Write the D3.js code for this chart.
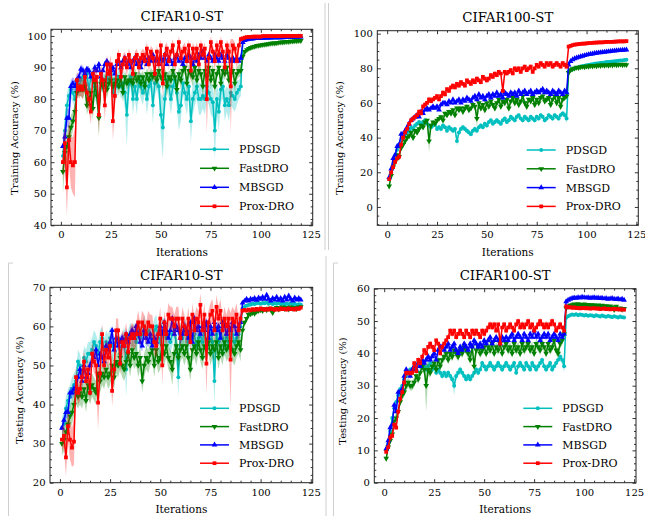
<!DOCTYPE html>
<meta charset="utf-8">
<style>
    body { margin: 0; background: #fff; }
</style>
<svg width="645" height="516"></svg>
<script src="https://cdn.jsdelivr.net/npm/d3@7/dist/d3.min.js"></script>
<script>
// iteration index (x) and legend names
var iters = d3.range(1, 121);
var seriesNames = ["PDSGD", "FastDRO", "MBSGD", "Prox-DRO"];
var xTicks = [0, 25, 50, 75, 100, 125];

// ---- CIFAR10-ST training accuracy ----
var tr10Pd = [62,70,78,81,83,82,80,85,84,86, 87,85,88,83,87,86,84,82,80,86, 85,84,87,86,88,82,86,84,87,84,
    85,82,75,85,87,80,84,80,86,84, 82,85,80,84,86,78,85,86,84,75, 71,80,86,84,80,84,86,82,76,78,
    85,82,80,84,73,80,82,84,80,80, 81,80,84,82,80,79,70,80,76,83, 84,78,80,78,82,81,80,82,83,84,
    98.6,98.9,99.0,99.1,99.2,99.2,99.3,99.3,99.3,99.4, 99.4,99.4,99.4,99.5,99.5,99.5,99.5,99.5,99.5,99.6, 99.6,99.6,99.6,99.6,99.6,99.6,99.7,99.7,99.7,99.7];
var tr10Fd = [57,63,65,68,71,73,76,82,83,83, 83,84,78,80,82,77,85,81,74,85, 84,86,83,85,86,84,85,86,84,87,
    82,87,85,86,86,85,88,86,87,85, 87,84,88,86,88,87,88,86,89,87, 86,88,84,87,86,89,87,83,88,86,
    89,90,85,89,88,87,90,86,89,88, 84,89,87,90,86,89,84,88,90,85, 89,88,90,86,88,89,85,88,89,89,
    93.5,95.0,95.6,96.0,96.3,96.5,96.7,96.9,97.0,97.1, 97.2,97.3,97.4,97.5,97.6,97.7,97.7,97.8,97.9,98.0, 98.0,98.1,98.2,98.2,98.3,98.3,98.4,98.4,98.5,98.5];
var tr10Mb = [65,68,74,74,84,85,84,86,87,89.5, 89,88,89.5,89,87,88,90,89,91,87, 89,91,92,91,89,90,88,91,92,90,
    92,93,91,92,90,92,93,91,92,90, 92,93,91,93,92,94,92,93,91,93, 92,94,91,93,92,91,93,94,92,93,
    91,93,92,94,93,91,93,92,94,93, 95,93,92,94,93,92,94,93,92,94, 93,92,94,93,92,93,92,93,92,93,
    98.0,98.6,98.8,99.0,99.1,99.1,99.2,99.2,99.3,99.3, 99.3,99.4,99.4,99.4,99.4,99.5,99.5,99.5,99.5,99.5, 99.5,99.6,99.6,99.6,99.6,99.6,99.6,99.6,99.7,99.7];
var tr10Px = [60,66,52,67,60,59,60,86,83,84, 83,87,82,80,76,88,86,87,75,88, 86,78,91,88,91,73,81,92,94,87,
    91,93,90,94,92,88,93,94,90,93, 94,92,96,91,95,93,88,95,91,97, 85,94,96,92,95,97,91,94,98,93,
    95,96,92,97,89,96,93,96,91,97, 94,96,80,93,98,95,92,97,94,98, 95,90,97,95,84,97,96,92,97,99,
    99.2,99.5,99.6,99.7,99.7,99.8,99.8,99.8,99.8,99.8, 99.9,99.9,99.9,99.9,99.9,99.9,99.9,99.9,99.9,99.9, 100,100,100,100,100,100,100,100,100,100];
var tr10PdS = [4,5,4,3,3,3,3,2,3,2, 3,3,2,4,3,3,4,4,5,3, 3,4,3,3,3,5,3,4,3,4, 4,5,10,4,3,5,4,5,3,4,
    4,3,5,4,3,6,4,3,4,7, 10,5,3,4,5,4,3,5,6,5, 3,4,5,4,7,5,4,4,5,5, 4,5,4,4,5,5,9,5,6,4, 4,5,4,5,4,4,4,4,3,3,
    0.5,0.4,0.4,0.4,0.4,0.4,0.4,0.4,0.4,0.4, 0.4,0.4,0.4,0.4,0.4,0.4,0.4,0.4,0.4,0.4, 0.4,0.4,0.4,0.4,0.4,0.4,0.4,0.4,0.4,0.4];
var tr10FdS = [7,5,5,4,4,3,3,2,2,2, 3,2,3,3,2,4,2,3,6,2, 2,2,3,2,2,3,2,2,3,2, 3,2,2,2,2,3,2,2,2,3,
    2,3,2,2,2,2,2,3,2,2, 3,2,4,2,3,2,2,4,2,3, 2,2,3,2,2,3,2,3,2,2, 4,2,3,2,3,2,4,2,2,3, 2,2,2,3,2,2,3,2,2,2,
    0.6,0.5,0.4,0.4,0.4,0.4,0.4,0.4,0.4,0.4, 0.4,0.4,0.4,0.4,0.4,0.4,0.4,0.4,0.4,0.4, 0.4,0.4,0.4,0.4,0.4,0.4,0.4,0.4,0.4,0.4];
var tr10MbS = [4,3,3,3,2,2,2,2,1.5,1.5, 1.5,1.5,1,1.5,1,1,1.5,1,1,1.5, 1,1,1,1,1.5,1,1,1,1,1, 1,1,1,1,1,1,1,1,1,1,
    1,1,1,1,1,1.5,1,1,1,1, 1,1,1,1,1,1,1,1,1,1, 1,1,1,1,1,1,1,1,1,1, 1.5,1,1,1,1,1,1,1,1,1, 1,1,1,1,1,1,1,1,1,1,
    0.3,0.3,0.3,0.3,0.3,0.3,0.3,0.3,0.3,0.3, 0.3,0.3,0.3,0.3,0.3,0.3,0.3,0.3,0.3,0.3, 0.3,0.3,0.3,0.3,0.3,0.3,0.3,0.3,0.3,0.3];
var tr10PxS = [6,6,9,7,8,9,11,3,3,3, 3,3,4,4,4,2,3,3,6,3, 3,5,3,3,3,6,5,2,2,3, 3,2,3,2,2,3,2,2,3,2,
    2,3,2,3,2,3,4,2,3,2, 5,3,2,3,2,2,3,2,2,3, 2,2,3,2,4,2,3,2,3,2, 2,2,11,3,2,2,3,2,2,2, 2,3,2,2,15,2,2,3,2,1,
    0.2,0.2,0.2,0.2,0.2,0.2,0.2,0.2,0.2,0.2, 0.2,0.2,0.2,0.2,0.2,0.2,0.2,0.2,0.2,0.2, 0.2,0.2,0.2,0.2,0.2,0.2,0.2,0.2,0.2,0.2];

// ---- CIFAR100-ST training accuracy ----
var tr100Pd = [16,20,24,30,33,36,38,40,42,43, 44,46,45,47,48,49,48,49,50,48, 47,46,47,48,45,46,45,47,46,44,
    46,45,44,45,38,43,45,46,45,44, 43,42,44,45,44,46,47,46,48,47, 49,50,48,49,50,49,48,50,51,49,
    50,52,51,50,52,53,51,50,52,51, 50,52,51,50,52,51,53,52,50,51, 53,52,51,53,52,51,53,54,53,51,
    78.0,79.0,79.6,80.0,80.4,80.7,81.0,81.3,81.5,81.8, 82.0,82.2,82.4,82.6,82.8,83.0,83.1,83.3,83.4,83.6, 83.7,83.8,84.0,84.1,84.2,84.4,84.5,84.6,84.8,84.9];
var tr100Fd = [12,18,23,26,30,29,34,36,38,40, 41,43,40,44,43,45,47,46,49,50, 38,47,49,48,50,51,52,50,54,53,
    55,54,56,53,57,56,57,55,57,58, 56,57,59,58,51,60,57,59,56,60, 58,61,59,57,60,62,58,61,60,62,
    57,61,63,60,62,59,61,64,60,58, 62,61,63,59,62,60,63,64,61,62, 63,59,62,64,60,63,58,62,63,64,
    77.5,79.0,79.6,80.0,80.5,80.3,80.8,81.0,80.7,81.2, 81.0,81.5,81.2,81.6,81.3,81.8,81.5,81.9,81.6,82.0, 81.7,82.1,81.8,82.2,81.9,82.0,82.3,81.9,82.2,82.0];
var tr100Mb = [17,22,28,30,35,36,42,42,44,46, 48,50,51,52,53,52,55,54,56,57, 56,57,58,57,58,56,59,60,60,59,
    61,60,62,60,61,62,60,62,61,63, 62,61,63,64,62,65,63,64,62,64, 65,63,65,64,66,64,65,63,66,65,
    64,66,65,66,64,67,65,66,67,65, 66,67,65,66,67,66,67,68,66,67, 66,65,67,66,65,67,66,65,67,66,
    82.0,84.0,85.0,85.6,86.0,86.4,86.8,87.1,87.4,87.7, 88.0,88.2,88.4,88.6,88.8,89.0,89.1,89.3,89.4,89.6, 89.7,89.8,90.0,90.1,90.2,90.3,90.4,90.5,90.6,90.7];
var tr100Px = [16,20,23,26,28,29,36,40,43,45, 48,50,51,52,53,55,54,58,59,60, 62,61,62,63,64,62,64,66,65,68,
    67,69,70,69,71,70,72,71,70,73, 72,71,73,72,74,73,72,75,74,73, 74,76,75,77,76,78,77,67,78,77,
    78,79,77,80,79,80,78,80,81,79, 80,81,78,80,82,81,83,82,81,83, 82,83,81,82,83,82,81,83,82,81,
    92.5,93.0,93.4,93.6,93.8,94.0,94.1,94.2,94.3,94.4, 94.5,94.6,94.7,94.8,94.8,94.9,95.0,95.0,95.1,95.2, 95.2,95.3,95.3,95.4,95.4,95.5,95.5,95.6,95.6,95.7];
var tr100PdS = [1.5,1.5,1.5,1.5,1.5,1.5,1.5,1.5,1.5,1.5, 1.5,1.5,1.5,1.5,1.5,1.5,1.5,1.5,1.5,1.5, 1.5,1.5,1.5,1.5,1.5,1.5,1.5,1.5,1.5,1.5,
    1.5,1.5,1.5,1.5,3,2,1.5,1.5,1.5,1.5, 1.5,1.5,1.5,1.5,1.5,1.5,1.5,1.5,1.5,1.5, 1.5,1.5,1.5,1.5,1.5,1.5,1.5,1.5,1.5,1.5,
    1.5,1.5,1.5,1.5,1.5,1.5,1.5,1.5,1.5,1.5, 1.5,1.5,1.5,1.5,1.5,1.5,1.5,1.5,1.5,1.5, 1.5,1.5,1.5,1.5,1.5,1.5,1.5,1.5,2,3,
    0.5,0.5,0.5,0.5,0.5,0.5,0.5,0.5,0.5,0.5, 0.5,0.5,0.5,0.5,0.5,0.5,0.5,0.5,0.5,0.5, 0.5,0.5,0.5,0.5,0.5,0.5,0.5,0.5,0.5,0.5];
var tr100FdS = [1.5,1.5,1.5,1.5,1.5,1.5,1.5,1.5,1.5,1.5, 1.5,1.5,2,1.5,1.5,1.5,1.5,1.5,1.5,1.5, 7,2,1.5,1.5,1.5,1.5,1.5,1.5,1.5,1.5,
    1.5,1.5,1.5,1.5,1.5,1.5,1.5,1.5,1.5,1.5, 1.5,1.5,1.5,2,5,1.5,2,1.5,2,1.5, 1.5,1.5,1.5,2,1.5,1.5,2,1.5,1.5,1.5,
    2,1.5,1.5,2,1.5,2,1.5,1.5,2,2.5, 1.5,1.5,1.5,2,1.5,2,1.5,1.5,2,1.5, 1.5,2,1.5,1.5,2,1.5,2.5,1.5,1.5,1.5,
    0.5,0.5,0.5,0.5,0.5,0.5,0.5,0.5,0.5,0.5, 0.5,0.5,0.5,0.5,0.5,0.5,0.5,0.5,0.5,0.5, 0.5,0.5,0.5,0.5,0.5,0.5,0.5,0.5,0.5,0.5];
var tr100MbS = [1,1,1,1,1,1,1,1,1,1, 1,1,1,1,1,1,1,1,1,1, 1,1,1,1,1,1,1,1,1,1, 1,1,1,1,1,1,1,1,1,1,
    1,1,1,1,1,1,1,1,1,1, 1,1,1,1,1,1,1,1,1,1, 1,1,1,1,1,1,1,1,1,1, 1,1,1,1,1,1,1,1,1,1, 1,1,1,1,1,2,1,1,1,1,
    0.4,0.4,0.4,0.4,0.4,0.4,0.4,0.4,0.4,0.4, 0.4,0.4,0.4,0.4,0.4,0.4,0.4,0.4,0.4,0.4, 0.4,0.4,0.4,0.4,0.4,0.4,0.4,0.4,0.4,0.4];
var tr100PxS = [1.5,1.5,1.5,1.5,1.5,1.5,1.5,1.5,1.5,1.5, 1.5,1.5,1.5,1.5,1.5,1.5,1.5,1.5,1.5,1.5, 1.5,1.5,1.5,1.5,1.5,1.5,1.5,1.5,1.5,1.5,
    1.5,1.5,1.5,1.5,1.5,1.5,1.5,1.5,1.5,1.5, 1.5,1.5,1.5,1.5,1.5,1.5,1.5,1.5,1.5,1.5, 1.5,1.5,1.5,1.5,1.5,1.5,1.5,3,1.5,1.5,
    1.5,1.5,1.5,1.5,1.5,1.5,1.5,1.5,1.5,1.5, 1.5,1.5,1.5,1.5,1.5,1.5,1.5,1.5,1.5,1.5, 1.5,1.5,1.5,1.5,1.5,1.5,1.5,1.5,2,2,
    0.4,0.4,0.4,0.4,0.4,0.4,0.4,0.4,0.4,0.4, 0.4,0.4,0.4,0.4,0.4,0.4,0.4,0.4,0.4,0.4, 0.4,0.4,0.4,0.4,0.4,0.4,0.4,0.4,0.4,0.4];

// ---- CIFAR10-ST testing accuracy ----
var te10Pd = [34,35,39,41,42,44,45,46,51,50, 47,52,51,53,53,54,56,55,53,56, 57,54,56,55,57,55,54,56,57,53,
    55,57,49,56,58,57,58,56,59,57, 58,60,57,59,58,56,59,60,57,56, 58,59,57,58,56,58,60,55,47,58,
    57,59,58,56,59,57,58,55,57,58, 56,59,55,57,58,56,46,58,56,59, 57,55,58,56,57,58,56,57,58,60,
    64.5,65.0,65.3,65.5,65.6,65.8,65.7,65.9,66.0,65.8, 66.0,65.9,66.1,65.8,66.0,65.7,65.9,65.8,66.0,65.7, 65.9,65.6,65.8,65.7,65.9,65.6,65.8,65.5,65.7,65.6];
var te10Fd = [30,31,33,35,37,38,40,43,42,43, 42,44,41,45,43,45,44,43,48,46, 48,47,49,47,48,50,47,51,50,52,
    50,49,51,53,50,54,52,53,50,52, 46,50,52,51,53,54,50,54,51,52, 55,53,55,52,51,49,53,55,52,54,
    55,53,55,52,49,54,55,53,56,54, 52,55,54,56,53,55,54,56,52,55, 53,56,54,55,56,54,53,55,56,54,
    59.0,61.0,62.0,63.0,63.2,63.5,63.3,63.8,64.0,64.2, 64.0,64.5,64.2,64.6,64.3,63.5,64.5,64.8,64.4,64.7, 64.9,64.5,64.8,64.4,64.9,64.6,64.8,64.5,64.9,65.0];
var te10Mb = [34,36,38,38,43,43,44,44,47,49, 46,50,47,48,50,51,52,54,50,53, 52,51,55,54,56,59,54,57,55,56,
    57,55,58,56,58,59,57,60,58,56, 55,59,57,56,58,55,57,56,58,60, 58,61,59,57,59,62,58,60,59,57,
    58,60,59,57,61,56,62,59,60,58, 60,59,61,57,60,58,61,59,60,57, 61,60,58,60,59,61,60,58,60,61,
    66.0,66.5,67.0,66.5,67.0,66.8,67.2,66.7,67.3,67.0, 67.5,67.0,68.0,67.0,66.5,67.2,66.8,67.5,66.7,67.2, 66.5,67.5,66.8,67.8,67.0,66.5,67.3,66.8,67.2,66.8];
var te10Px = [31,32,26.5,34.5,31,29,30.5,47,43,44, 47,51,46,49,43,53,51,50,40.5,48, 58,50,54,52,55,43.5,49,59,59,50.5,
    56,55,58,53.5,57,58,57,58,61,58, 61,60,58,61,60,60,56,55,58,62, 50,61,58,63,62,62,60,62,62,57,
    62,60,58,62,56,63,59,62,61,65.5, 59,63,50.5,61,63,64,59,65,62,64, 59,62,60,62,51.5,62,61,63,59,62,
    64.0,64.2,64.0,64.3,64.1,64.4,64.2,64.5,64.3,64.6, 64.4,64.2,64.5,64.3,64.6,64.4,64.2,64.5,64.3,64.6, 64.4,64.5,64.3,64.6,64.4,64.5,64.3,64.6,64.5,64.8];
var te10PdS = [3,3,3,3,3,3,3,3,3,3, 3,3,3,3,3,3,3,3,3,3, 3,3,3,3,3,3,3,3,3,3, 3,3,7,3,3,3,3,3,3,3,
    3,3,3,3,3,3,3,3,3,5, 4,3,3,3,3,3,3,3,5,3, 3,3,3,3,3,3,3,3,3,3, 3,3,3,3,3,3,6,3,3,3, 3,3,3,3,3,3,3,3,3,3,
    0.4,0.4,0.4,0.4,0.4,0.4,0.4,0.4,0.4,0.4, 0.4,0.4,0.4,0.4,0.4,0.4,0.4,0.4,0.4,0.4, 0.4,0.4,0.4,0.4,0.4,0.4,0.4,0.4,0.4,0.4];
var te10FdS = [3,3,3,3,3,3,3,3,3,3, 3,3,3,3,3,3,3,3,3,3, 3,3,3,3,3,3,3,3,3,3, 3,3,3,3,3,3,3,3,3,3,
    3,3,3,3,3,3,3,3,3,3, 3,3,3,3,3,4,3,3,3,3, 3,3,3,3,3,3,3,3,3,3, 3,3,3,3,3,3,3,3,3,3, 3,3,3,3,3,3,3,3,3,3,
    0.5,0.5,0.5,0.5,0.5,0.5,0.5,0.5,0.5,0.5, 0.5,0.5,0.5,0.5,0.5,0.5,0.5,0.5,0.5,0.5, 0.5,0.5,0.5,0.5,0.5,0.5,0.5,0.5,0.5,0.5];
var te10MbS = [1.5,1.5,1.5,1.5,1.5,1.5,1.5,1.5,1.5,1.5, 1.5,1.5,1.5,1.5,1.5,1.5,1.5,1.5,1.5,1.5, 1.5,1.5,1.5,1.5,1.5,1.5,1.5,1.5,1.5,1.5,
    1.5,1.5,1.5,1.5,1.5,1.5,1.5,1.5,1.5,1.5, 1.5,1.5,1.5,1.5,1.5,1.5,1.5,1.5,1.5,1.5, 1.5,1.5,1.5,1.5,1.5,1.5,1.5,1.5,1.5,1.5,
    1.5,1.5,1.5,1.5,1.5,1.5,1.5,1.5,1.5,1.5, 1.5,1.5,1.5,1.5,1.5,1.5,1.5,1.5,1.5,1.5, 1.5,1.5,1.5,1.5,1.5,1.5,1.5,1.5,1.5,1.5,
    0.4,0.4,0.4,0.4,0.4,0.4,0.4,0.4,0.4,0.4, 0.4,0.4,0.4,0.4,0.4,0.4,0.4,0.4,0.4,0.4, 0.4,0.4,0.4,0.4,0.4,0.4,0.4,0.4,0.4,0.4];
var te10PxS = [3,3,5,4,5,5,6,3,3,3, 3,3,3,3,3,3,3,3,7,3, 3,3,3,3,3,4,3,3,3,3, 3,3,3,3,3,3,3,3,3,3,
    3,3,3,3,3,3,3,3,3,3, 5,3,3,3,3,3,3,3,3,3, 3,3,3,3,3,3,3,3,3,3, 3,3,8,3,3,3,3,3,3,3, 3,3,3,3,12,3,3,3,3,3,
    0.3,0.3,0.3,0.3,0.3,0.3,0.3,0.3,0.3,0.3, 0.3,0.3,0.3,0.3,0.3,0.3,0.3,0.3,0.3,0.3, 0.3,0.3,0.3,0.3,0.3,0.3,0.3,0.3,0.3,0.3];

// ---- CIFAR100-ST testing accuracy ----
var te100Pd = [10,12,16,20,23,25,27,29,30,32, 33,34,35,34,36,35,37,36,37,36, 35,36,37,35,36,34,35,34,33,34,
    33,34,33,32,30,33,34,35,34,33, 32,33,32,33,34,35,34,35,37,36, 35,36,37,36,35,36,37,36,35,36,
    37,36,35,36,37,34,36,37,36,35, 37,36,35,37,36,35,36,37,38,36, 35,36,37,35,36,37,38,39,38,36,
    51.0,51.5,51.8,52.0,51.9,52.1,51.8,52.0,51.9,51.7, 51.9,51.6,51.8,51.7,51.5,51.8,51.6,51.4,51.7,51.5, 51.3,51.6,51.4,51.2,51.5,51.3,51.1,51.4,51.2,51.1];
var te100Fd = [7.5,11,13,15,19,20,22,25,27,28, 30,31,30,30,31,33,32,34,36,35, 30,35,34,36,37,35,38,36,38,39,
    40,38,40,39,41,40,39,41,40,42, 41,40,38,42,36,41,42,40,41,42, 40,42,41,43,40,42,41,43,40,42,
    43,41,42,40,43,41,42,40,43,41, 42,43,41,42,40,43,42,41,43,42, 40,43,41,42,44,41,40,43,44,46,
    54.0,54.5,54.8,55.0,55.2,55.0,55.3,55.1,55.0,55.2, 54.9,55.1,54.8,55.0,54.9,54.7,54.9,54.6,54.8,54.5, 54.7,54.4,54.6,54.3,53.5,54.5,53.8,54.0,53.6,53.8];
var te100Mb = [10.5,13,17,18,24,22,28,28,29,33, 35,34,33,35,36,35,37,36,38,37, 38,39,38,39,40,38,41,42,42,41,
    42,43,41,42,43,41,40,42,41,43, 42,41,43,42,44,43,42,43,42,44, 43,44,45,43,44,45,44,43,45,44,
    45,44,45,46,44,45,46,45,44,46, 45,44,46,45,47,45,46,44,45,46, 45,46,44,45,46,45,44,46,45,46,
    56.0,56.5,56.8,57.0,57.2,57.1,57.3,57.2,57.4,57.3, 57.2,57.3,57.1,57.2,57.3,57.1,57.2,57.0,57.1,56.9, 57.0,56.8,56.9,57.0,56.8,56.7,56.9,56.6,56.8,56.5];
var te100Px = [9.5,11,14,14.5,18,17,22,26,28,31, 34,34,34,34,37,34.5,38,37,39,41, 40,42,43,42,41,44,43,40,42,43,
    44,45,47,46,47,45,46,47,46,45, 47,46,45,47,46,47,46,45,47,46, 47,48,49,48,49,47,49,43,48,49,
    47,48,49,48,47,49,50,48,49,48, 49,50,48,49,47,48,49,50,49,48, 49,48,49,50,49,47,48,49,48,47,
    54.5,54.2,54.3,54.1,54.2,54.0,54.1,53.9,54.0,54.1, 53.9,54.0,53.8,53.9,54.0,53.8,53.9,53.7,53.8,53.9, 53.7,53.8,53.6,53.7,53.8,53.6,53.7,53.5,53.6,53.5];
var te100PdS = [1,1,1,1,1,1,1,1,1,1, 1,1,1,1,1,1,1,1,1,1, 1,1,1,1,1,1,1,1,1,1, 1,1,1,1,3,1.5,1,1,1,1,
    1,1,1,1,1,1,1,1,1,1, 1,1,1,1,1,1,1,1,1,1, 1,1,1,1,1,1,1,1,1,1, 1,1,1,1,1,1,1,1,1,1, 1,1,1,1,1,1,1,1,1.5,2,
    0.4,0.4,0.4,0.4,0.4,0.4,0.4,0.4,0.4,0.4, 0.4,0.4,0.4,0.4,0.4,0.4,0.4,0.4,0.4,0.4, 0.4,0.4,0.4,0.4,0.4,0.4,0.4,0.4,0.4,0.4];
var te100FdS = [1.5,1.5,1.5,1.5,1.5,1.5,1.5,1.5,1.5,1.5, 1.5,1.5,1.5,1.5,1.5,1.5,1.5,1.5,1.5,1.5, 8,2,1.5,1.5,1.5,1.5,1.5,1.5,1.5,1.5,
    1.5,1.5,1.5,1.5,1.5,1.5,1.5,1.5,1.5,1.5, 1.5,1.5,1.5,1.5,3,1.5,1.5,1.5,1.5,1.5, 1.5,1.5,1.5,1.5,1.5,1.5,1.5,1.5,1.5,1.5,
    1.5,1.5,1.5,1.5,1.5,1.5,1.5,1.5,1.5,1.5, 1.5,1.5,1.5,1.5,1.5,1.5,1.5,1.5,1.5,1.5, 1.5,1.5,1.5,1.5,1.5,1.5,1.5,1.5,1.5,1.5,
    0.5,0.5,0.5,0.5,0.5,0.5,0.5,0.5,0.5,0.5, 0.5,0.5,0.5,0.5,0.5,0.5,0.5,0.5,0.5,0.5, 0.5,0.5,0.5,0.5,0.5,0.5,0.5,0.5,0.5,0.5];
var te100MbS = [1,1,1,1,1,1,1,1,1,1, 1,1,1,1,1,1,1,1,1,1, 1,1,1,1,1,1,1,1,1,1, 1,1,1,1,1,1,1,1,1,1,
    1,1,1,1,1,1,1,1,1,1, 1,1,1,1,1,1,1,1,1,1, 1,1,1,1,1,1,1,1,1,1, 1,1,1,1,1,1,1,1,1,1, 1,1,1,1,1,1,1,1,1,1,
    0.4,0.4,0.4,0.4,0.4,0.4,0.4,0.4,0.4,0.4, 0.4,0.4,0.4,0.4,0.4,0.4,0.4,0.4,0.4,0.4, 0.4,0.4,0.4,0.4,0.4,0.4,0.4,0.4,0.4,0.4];
var te100PxS = [1,1,1,1,1,1,1,1,1,1, 1,1,1,1,1,1,1,1,1,1, 1,1,1,1,1,1,1,1,1,1, 1,1,1,1,1,1,1,1,1,1,
    1,1,1,1,1,1,1,1,1,1, 1,1,1,1,1,1,1,2.5,1,1, 1,1,1,1,1,1,1,1,1,1, 1,1,1,1,1,1,1,1,1,1, 1,1,1,1,1,1,1,1,1,1,
    0.3,0.3,0.3,0.3,0.3,0.3,0.3,0.3,0.3,0.3, 0.3,0.3,0.3,0.3,0.3,0.3,0.3,0.3,0.3,0.3, 0.3,0.3,0.3,0.3,0.3,0.3,0.3,0.3,0.3,0.3];

var colors = ["#00bfbf", "#008000", "#0000ff", "#ff0000"];
var symbols = [d3.symbolCircle, d3.symbolTriangle, d3.symbolTriangle, d3.symbolSquare];
var symRot = [0, 180, 0, 0];
var symSize = [12, 14, 14, 14];
var serif = "DejaVu Serif";

var panels = [
    {id: 0, title: "CIFAR10-ST", ylabel: "Training Accuracy (%)", box: [51, 29.3, 312.7, 225.3],
        yDomain: [40, 102.1], yTicks: [40, 50, 60, 70, 80, 90, 100], yMinor: 2,
        values: [tr10Pd, tr10Fd, tr10Mb, tr10Px], spreads: [tr10PdS, tr10FdS, tr10MbS, tr10PxS],
        titleY: 21, ylabX: 17.5, ylabY: 138, legX: 200, legY: 149.3, legStep: 19},
    {id: 1, title: "CIFAR100-ST", ylabel: "Training Accuracy (%)", box: [377.3, 30.7, 638.3, 225.3],
        yDomain: [-10.6, 101.7], yTicks: [0, 20, 40, 60, 80, 100], yMinor: 5,
        values: [tr100Pd, tr100Fd, tr100Mb, tr100Px], spreads: [tr100PdS, tr100FdS, tr100MbS, tr100PxS],
        titleY: 22, ylabX: 343, ylabY: 138, legX: 526.7, legY: 150, legStep: 18.8},
    {id: 2, title: "CIFAR10-ST", ylabel: "Testing Accuracy (%)", box: [50, 287.3, 312.7, 482.7],
        yDomain: [20, 70], yTicks: [20, 30, 40, 50, 60, 70], yMinor: 2,
        values: [te10Pd, te10Fd, te10Mb, te10Px], spreads: [te10PdS, te10FdS, te10MbS, te10PxS],
        titleY: 280, ylabX: 23, ylabY: 390, legX: 200, legY: 408.3, legStep: 18.3},
    {id: 3, title: "CIFAR100-ST", ylabel: "Testing Accuracy (%)", box: [374.3, 288.7, 636, 482.7],
        yDomain: [0, 60], yTicks: [0, 10, 20, 30, 40, 50, 60], yMinor: 2,
        values: [te100Pd, te100Fd, te100Mb, te100Px], spreads: [te100PdS, te100FdS, te100MbS, te100PxS],
        titleY: 280, ylabX: 346, ylabY: 391, legX: 523.3, legY: 408.3, legStep: 18.3}
];

var svg = d3.select("svg");

// light frame lines of the composed figure
var frameLines = [
    [325, 3, 325, 250], [328.5, 3, 328.5, 250],
    [8.5, 263, 8.5, 516], [8.5, 263, 13, 263], [326, 256, 326, 516],
    [333.5, 263, 333.5, 516], [333.5, 263, 338, 263]
];
svg.selectAll("line.frame").data(frameLines).enter().append("line")
    .attr("class", "frame")
    .attr("x1", function (d) { return d[0]; }).attr("y1", function (d) { return d[1]; })
    .attr("x2", function (d) { return d[2]; }).attr("y2", function (d) { return d[3]; })
    .attr("stroke", "#cfcfcf").attr("stroke-width", 1);

function marker(sel, k, x, y) {
    sel.append("path")
        .attr("d", d3.symbol(symbols[k], symSize[k]))
        .attr("transform", "translate(" + x + "," + y + ") rotate(" + symRot[k] + ")")
        .attr("fill", colors[k]);
}

function label(sel, size) {
    return sel.attr("font-family", serif).attr("font-weight", "normal")
        .attr("font-size", size).attr("fill", "#000");
}

panels.forEach(function (p) {
    var left = p.box[0], top = p.box[1], right = p.box[2], bottom = p.box[3];
    var x = d3.scaleLinear().domain([-4.95, 125.95]).range([left, right]);
    var y = d3.scaleLinear().domain(p.yDomain).range([bottom, top]);
    var g = svg.append("g");

    g.append("clipPath").attr("id", "clip" + p.id)
        .append("rect").attr("x", left).attr("y", top)
        .attr("width", right - left).attr("height", bottom - top);
    var plot = g.append("g").attr("clip-path", "url(#clip" + p.id + ")");

    p.values.forEach(function (vals, k) {
        var sp = p.spreads[k];
        var area = d3.area()
            .x(function (d, i) { return x(iters[i]); })
            .y0(function (d, i) { return y(d - sp[i]); })
            .y1(function (d, i) { return y(d + sp[i]); });
        var line = d3.line()
            .x(function (d, i) { return x(iters[i]); })
            .y(function (d) { return y(d); });
        plot.append("path").attr("d", area(vals))
            .attr("fill", colors[k]).attr("fill-opacity", 0.3).attr("stroke", "none");
        plot.append("path").attr("d", line(vals))
            .attr("fill", "none").attr("stroke", colors[k])
            .attr("stroke-width", 1.5).attr("stroke-linejoin", "round");
        var mk = plot.append("g");
        vals.forEach(function (d, i) { marker(mk, k, x(iters[i]), y(d)); });
    });

    // axes: inward major + minor ticks on all four sides
    var xMinor = d3.range(0, 126, 5).filter(function (v) { return v % 25 !== 0; });
    var yMinor = d3.range(Math.ceil(p.yDomain[0] / p.yMinor) * p.yMinor, p.yDomain[1], p.yMinor)
        .filter(function (v) { return p.yTicks.indexOf(v) < 0; });
    function strip(sel) {
        sel.select(".domain").remove();
        sel.selectAll("line").attr("stroke", "#000").attr("stroke-width", 0.8);
        sel.selectAll("text").call(label, 10);
    }

    g.append("g").attr("transform", "translate(0," + bottom + ")")
        .call(d3.axisBottom(x).tickValues(xTicks).tickSizeInner(-3.5).tickSizeOuter(0).tickPadding(5.8))
        .call(strip);
    g.append("g").attr("transform", "translate(0," + bottom + ")")
        .call(d3.axisBottom(x).tickValues(xMinor).tickSizeInner(-2).tickSizeOuter(0).tickFormat(""))
        .call(strip);
    g.append("g").attr("transform", "translate(0," + top + ")")
        .call(d3.axisTop(x).tickValues(xTicks).tickSizeInner(-3.5).tickSizeOuter(0).tickFormat(""))
        .call(strip);
    g.append("g").attr("transform", "translate(0," + top + ")")
        .call(d3.axisTop(x).tickValues(xMinor).tickSizeInner(-2).tickSizeOuter(0).tickFormat(""))
        .call(strip);
    g.append("g").attr("transform", "translate(" + left + ",0)")
        .call(d3.axisLeft(y).tickValues(p.yTicks).tickSizeInner(-3.5).tickSizeOuter(0).tickPadding(4.5))
        .call(strip);
    g.append("g").attr("transform", "translate(" + left + ",0)")
        .call(d3.axisLeft(y).tickValues(yMinor).tickSizeInner(-2).tickSizeOuter(0).tickFormat(""))
        .call(strip);
    g.append("g").attr("transform", "translate(" + right + ",0)")
        .call(d3.axisRight(y).tickValues(p.yTicks).tickSizeInner(-3.5).tickSizeOuter(0).tickFormat(""))
        .call(strip);
    g.append("g").attr("transform", "translate(" + right + ",0)")
        .call(d3.axisRight(y).tickValues(yMinor).tickSizeInner(-2).tickSizeOuter(0).tickFormat(""))
        .call(strip);

    g.append("rect").attr("x", left).attr("y", top)
        .attr("width", right - left).attr("height", bottom - top)
        .attr("fill", "none").attr("stroke", "#222").attr("stroke-width", 1);

    g.append("text").attr("x", (left + right) / 2).attr("y", p.titleY)
        .attr("text-anchor", "middle").call(label, 13.3).text(p.title);
    g.append("text").attr("x", (left + right) / 2).attr("y", bottom + 30.3)
        .attr("text-anchor", "middle").call(label, 10.5).text("Iterations");
    g.append("text")
        .attr("transform", "translate(" + p.ylabX + "," + p.ylabY + ") rotate(-90)")
        .attr("text-anchor", "middle").call(label, 10).text(p.ylabel);

    // legend
    seriesNames.forEach(function (name, k) {
        var ly = p.legY + k * p.legStep;
        g.append("line").attr("x1", p.legX).attr("x2", p.legX + 29)
            .attr("y1", ly).attr("y2", ly)
            .attr("stroke", colors[k]).attr("stroke-width", 1.5);
        marker(g, k, p.legX + 14.5, ly);
        g.append("text").attr("x", p.legX + 39).attr("y", ly + 4)
            .call(label, 11).text(name);
    });
});
</script>
